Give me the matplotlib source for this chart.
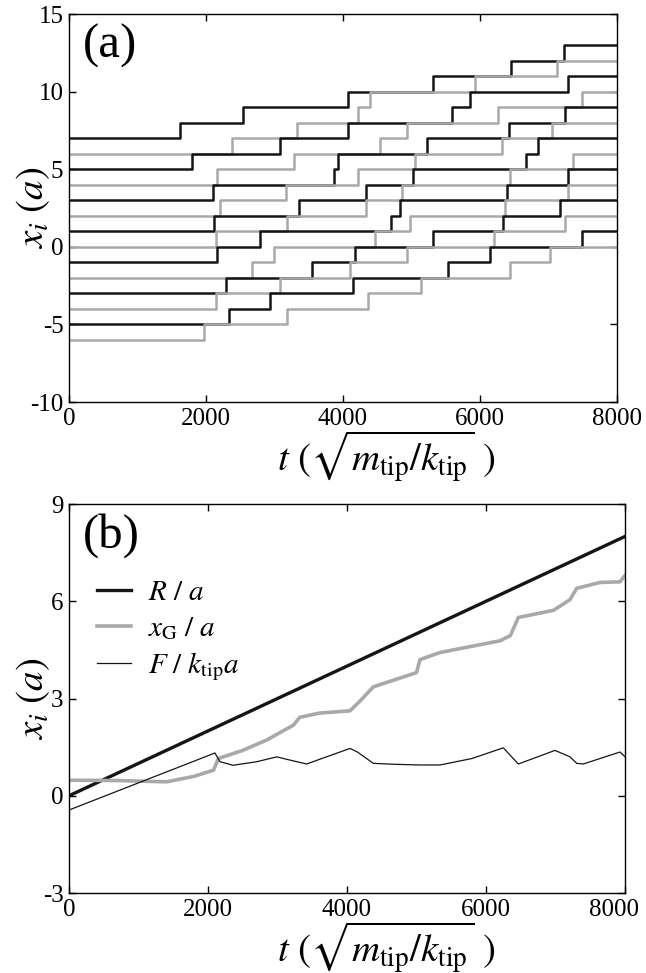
#################### Libraries
import numpy as np
import matplotlib.pyplot as plt
import matplotlib.transforms as mtransforms

plt.rcParams['font.family'] = ['Liberation Serif', 'DejaVu Serif']
plt.rcParams['mathtext.fontset'] = 'stix'
plt.rcParams['axes.unicode_minus'] = False

#################### Panel (a): atom positions, start level and step times (each step = one lattice site)
t_end = 8000
black_start = [7, 5, 3, 1, -1, -3, -5]
gray_start = [6, 4, 2, 0, -2, -4, -6]

black_steps = [
    [1620, 2545, 4078, 5319, 6453, 7232],
    [1791, 3081, 4078, 5587, 5855, 7290],
    [2098, 3874, 3932, 5222, 6420, 7242],
    [2122, 3358, 4330, 5027, 6670, 6852],
    [2166, 2789, 4700, 4840, 6390, 7290],
    [2288, 3543, 4170, 5319, 6330, 7169],
    [2341, 2935, 4151, 5538, 6147, 7485],
]
gray_steps = [
    [2384, 3324, 4224, 4395, 5928, 7120],
    [2156, 3290, 4541, 4930, 6268, 7485],
    [2200, 3163, 4224, 5052, 6317, 7047],
    [2146, 3178, 4330, 4857, 6439, 7363],
    [2667, 2998, 4468, 4979, 6366, 7290],
    [2141, 3081, 4110, 4940, 6200, 7242],
    [1976, 3178, 4370, 5137, 6439, 7023],
]

#################### Panel (b): tip support R, centre of mass x_G and force F
R_t = [0, 8000]
R_v = [0, 8]

xg_t = [0, 700, 1405, 1800, 2080, 2150, 2500, 2845, 3230, 3320, 3600, 4043, 4200,
        4379, 5000, 5050, 5338, 6200, 6350, 6465, 6970, 7209, 7305, 7640, 7928, 8000]
xg_v = [0.48, 0.47, 0.43, 0.6, 0.79, 1.15, 1.4, 1.72, 2.18, 2.42, 2.55, 2.62, 2.95,
        3.36, 3.8, 4.2, 4.42, 4.78, 4.94, 5.5, 5.72, 6.05, 6.4, 6.58, 6.6, 6.8]

F_t = [0, 2100, 2173, 2360, 2700, 2990, 3180, 3420, 3600, 4043, 4150, 4379, 4700,
       5050, 5338, 5800, 6249, 6465, 6993, 7209, 7305, 7400, 7928, 8000]
F_v = [-0.44, 1.32, 1.05, 0.94, 1.05, 1.2, 1.1, 0.98, 1.12, 1.46, 1.35, 1.0, 0.97,
       0.95, 0.95, 1.15, 1.48, 0.98, 1.4, 1.2, 1.0, 0.98, 1.35, 1.2]

BLACK = '#151515'
GRAY = '#a9a9a9'

fig = plt.figure(figsize=(6.46, 9.73), dpi=100)
ax1 = fig.add_axes([0.1068, 0.5868, 0.8482, 0.3988])
ax2 = fig.add_axes([0.1068, 0.0822, 0.8607, 0.3998])

#################### Plot (a)
for i in range(7):
    for start, steps, col in [(black_start[i], black_steps[i], BLACK),
                              (gray_start[i], gray_steps[i], GRAY)]:
        tt = [0] + steps + [t_end]
        lev = [start + k for k in range(len(steps) + 1)]
        lev = lev + [lev[-1]]
        ax1.step(tt, lev, where='post', color=col, lw=1.8)

ax1.set_xlim(0, 8000)
ax1.set_ylim(-10, 15)
ax1.set_xticks([0, 2000, 4000, 6000, 8000])
ax1.set_yticks([-10, -5, 0, 5, 10, 15])
ax1.text(0.025, 0.975, '(a)', transform=ax1.transAxes, fontsize=35, va='top', ha='left')

#################### Plot (b)
ax2.plot(R_t, R_v, color=BLACK, lw=2.4, label=r'$R\ /\ a$')
ax2.plot(xg_t, xg_v, color=GRAY, lw=2.6, label=r'$x_{\rm G}\ /\ a$')
ax2.plot(F_t, F_v, color=BLACK, lw=0.9, label=r'$F\ /\ k_{\rm tip}a$')
ax2.set_xlim(0, 8000)
ax2.set_ylim(-3, 9)
ax2.set_xticks([0, 2000, 4000, 6000, 8000])
ax2.set_yticks([-3, 0, 3, 6, 9])
ax2.text(0.025, 0.977, '(b)', transform=ax2.transAxes, fontsize=35, va='top', ha='left')
ax2.legend(loc='upper left', bbox_to_anchor=(0.03, 0.835), borderaxespad=0,
           frameon=False, fontsize=21, handlelength=1.15, handletextpad=0.6,
           labelspacing=0.3)

for ax, w, h in ((ax1, 548, 388), (ax2, 556, 389)):
    ax.tick_params(direction='in', top=True, right=True, length=5, width=1,
                   labelsize=18)
    ax.tick_params(axis='x', pad=4)
    ax.tick_params(axis='y', pad=4)
    for s in ax.spines.values():
        s.set_linewidth(1.0)
    ax.set_ylabel(r'$x_i\ (a)$', fontsize=28)
    ax.set_xlabel(r'$t\ (\sqrt{m_{\rm tip}/k_{\rm tip}}\ )$', fontsize=28)
    ax.yaxis.set_label_coords(-17 / w, 0.5)
    ax.xaxis.set_label_coords(317 / w, -26 / h)

# keep the last tick label of (b) inside the figure
fig.canvas.draw()
lab = ax2.get_xticklabels()[-1]
lab.set_transform(lab.get_transform() + mtransforms.ScaledTranslation(-8 / 72, 0, fig.dpi_scale_trans))

fig.savefig('out.png', dpi=100)
